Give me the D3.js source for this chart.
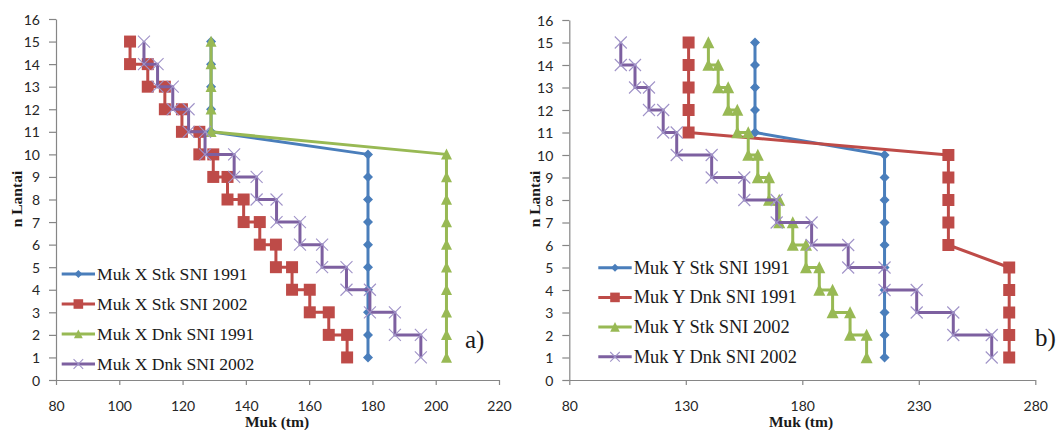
<!DOCTYPE html>
<html>
<head>
<meta charset="utf-8">
<script src="https://cdn.jsdelivr.net/npm/d3@7"></script>
<style>
  html, body { margin: 0; padding: 0; background: #fff; }
  svg { display: block; }
</style>
</head>
<body>
<svg id="chart" width="1059" height="430"></svg>
<script>
// Storey numbers, top to bottom
const floors = d3.range(15, 0, -1);
// Tick values
const yTicks = d3.range(0, 17, 1);
const xTicksA = [80, 100, 120, 140, 160, 180, 200, 220];
const xTicksB = [80, 130, 180, 230, 280];

// Panel a) – one value per storey (15 .. 1)
const mukXStk1991 = [129, 129, 129, 129, 129, 178.6, 178.6, 178.6, 178.6, 178.6, 178.6, 178.6, 178.6, 178.6, 178.6];
const mukXDnk1991 = [129, 129, 129, 129, 129, 203.4, 203.4, 203.4, 203.4, 203.4, 203.4, 203.4, 203.4, 203.4, 203.4];
// Panel a) – stepped series, one value per storey span (15-14 .. 2-1)
const mukXStk2002 = [103.4, 109.0, 114.4, 119.8, 125.3, 129.7, 134.2, 139.3, 144.4, 149.5, 154.6, 160.2, 166.2, 172.0];
const mukXDnk2002 = [107.8, 112.1, 116.9, 121.9, 127.1, 136.3, 143.4, 149.7, 157.1, 164.1, 171.8, 179.2, 187.1, 195.3];

// Panel b)
const mukYStk1991 = [159.7, 159.7, 159.7, 159.7, 159.7, 215.3, 215.3, 215.3, 215.3, 215.3, 215.3, 215.3, 215.3, 215.3, 215.3];
const mukYDnk1991 = [131.2, 131.2, 131.2, 131.2, 131.2, 242.7, 242.7, 242.7, 242.7, 242.7, 268.8, 268.8, 268.8, 268.8, 268.8];
const mukYStk2002 = [139.7, 143.9, 148.2, 152.1, 156.8, 160.9, 165.7, 170.1, 175.9, 181.6, 187.3, 193.0, 200.5, 207.6];
const mukYDnk2002 = [102.1, 108.2, 114.2, 120.3, 126.1, 141.1, 155.1, 169.0, 184.0, 199.7, 215.3, 229.1, 244.8, 261.3];

const namesA = ["Muk X Stk SNI 1991", "Muk X Stk SNI 2002", "Muk X Dnk SNI 1991", "Muk X Dnk SNI 2002"];
const namesB = ["Muk Y Stk SNI 1991", "Muk Y Dnk SNI 1991", "Muk Y Stk SNI 2002", "Muk Y Dnk SNI 2002"];

const COLORS = { blue: "#4A7EBB", red: "#BE4B48", green: "#98B954", purple: "#7D60A0", xmark: "#A093C8" };

// Point builders
const perFloor = vals => vals.map((v, i) => ({ x: v, y: floors[i] }));
const stepped = vals => vals.flatMap((v, i) => [{ x: v, y: 15 - i }, { x: v, y: 14 - i }]);

// Marker shapes (centred on 0,0)
const shapes = {
  diamond: s => `M0,${-s}L${s},0L0,${s}L${-s},0Z`,
  square: s => `M${-s},${-s}H${s}V${s}H${-s}Z`,
  triangle: s => `M0,${-s * 1.05}L${s},${s * 0.95}L${-s},${s * 0.95}Z`,
  cross: s => `M${-s},${-s}L${s},${s}M${s},${-s}L${-s},${s}`
};

const svg = d3.select("#chart");
const tickFont = "Lato, 'Open Sans', sans-serif";
const serif = "'Liberation Serif', 'DejaVu Serif', serif";

function drawMarker(g, type, color, size, x, y) {
  const p = g.append("path").attr("d", shapes[type](size)).attr("transform", `translate(${x},${y})`);
  if (type === "cross") p.attr("fill", "none").attr("stroke", COLORS.xmark).attr("stroke-width", 1.1);
  else p.attr("fill", color);
}

function panel(cfg) {
  const x = d3.scaleLinear().domain(cfg.xDomain).range(cfg.xRange);
  const y = d3.scaleLinear().domain([0, 16]).range([380, cfg.yTop]);
  const g = svg.append("g");

  // Axes
  const yAxis = d3.axisLeft(y).tickValues(yTicks).tickSize(7).tickPadding(9).tickSizeOuter(0);
  const gy = g.append("g").attr("transform", `translate(${cfg.xRange[0]},0)`).call(yAxis);
  const xAxis = d3.axisBottom(x).tickValues(cfg.xTicks).tickSize(5).tickPadding(16).tickSizeOuter(0);
  const gx = g.append("g").attr("transform", `translate(0,380)`).call(xAxis);
  [gy, gx].forEach(a => {
    a.select(".domain").attr("stroke", "#868686").attr("stroke-width", 1.2);
    a.selectAll(".tick line").attr("stroke", "#868686").attr("stroke-width", 1.2);
    a.selectAll(".tick text").attr("font-family", tickFont).attr("font-size", 14).attr("fill", "#262626");
  });
  gy.selectAll(".tick text").attr("dy", "0.36em");

  // Axis titles
  g.append("text").attr("x", cfg.xTitleX).attr("y", 427).attr("text-anchor", "middle")
    .attr("font-family", serif).attr("font-weight", "bold").attr("font-size", 15.5).attr("fill", "#1a1a1a")
    .text("Muk (tm)");
  g.append("text").attr("transform", `translate(${cfg.yTitleX},199) rotate(-90)`).attr("text-anchor", "middle")
    .attr("font-family", serif).attr("font-weight", "bold").attr("font-size", 15.5).attr("fill", "#1a1a1a")
    .text("n Lantai");

  // Series
  const line = d3.line().x(d => x(d.x)).y(d => y(d.y));
  cfg.series.forEach(s => {
    const sg = g.append("g");
    sg.append("path").datum(s.points).attr("d", line)
      .attr("fill", "none").attr("stroke", s.color).attr("stroke-width", 3).attr("stroke-linejoin", "round");
    s.points.forEach(p => drawMarker(sg, s.shape, s.color, s.size, x(p.x), y(p.y)));
  });

  // Legend
  const lg = g.append("g");
  cfg.series.forEach((s, i) => {
    const ry = cfg.legend.y0 + i * cfg.legend.dy;
    lg.append("line").attr("x1", cfg.legend.x0).attr("x2", cfg.legend.x1).attr("y1", ry).attr("y2", ry)
      .attr("stroke", s.color).attr("stroke-width", 3);
    drawMarker(lg, s.shape, s.color, s.size * 0.8, (cfg.legend.x0 + cfg.legend.x1) / 2, ry);
    lg.append("text").attr("x", cfg.legend.x1 + 2).attr("y", ry + 6)
      .attr("font-family", serif).attr("font-size", cfg.legend.fs).attr("fill", "#1a1a1a")
      .text(s.name);
  });

  // Panel tag
  g.append("text").attr("x", cfg.tag.x).attr("y", cfg.tag.y)
    .attr("font-family", serif).attr("font-size", 25).attr("fill", "#1a1a1a").text(cfg.tag.text);
}

panel({
  xDomain: [80, 220], xRange: [56, 499], yTop: 19, xTicks: xTicksA,
  xTitleX: 277, yTitleX: 22,
  series: [
    { name: namesA[0], points: perFloor(mukXStk1991), color: COLORS.blue, shape: "diamond", size: 5 },
    { name: namesA[1], points: stepped(mukXStk2002), color: COLORS.red, shape: "square", size: 6 },
    { name: namesA[2], points: perFloor(mukXDnk1991), color: COLORS.green, shape: "triangle", size: 5.5 },
    { name: namesA[3], points: stepped(mukXDnk2002), color: COLORS.purple, shape: "cross", size: 6 }
  ],
  legend: { x0: 61.7, x1: 95, y0: 274, dy: 30, fs: 17.6 },
  tag: { x: 465, y: 348, text: "a)" }
});

panel({
  xDomain: [80, 280], xRange: [569.3, 1035.3], yTop: 20, xTicks: xTicksB,
  xTitleX: 801, yTitleX: 540,
  series: [
    { name: namesB[0], points: perFloor(mukYStk1991), color: COLORS.blue, shape: "diamond", size: 5 },
    { name: namesB[1], points: perFloor(mukYDnk1991), color: COLORS.red, shape: "square", size: 6 },
    { name: namesB[2], points: stepped(mukYStk2002), color: COLORS.green, shape: "triangle", size: 6 },
    { name: namesB[3], points: stepped(mukYDnk2002), color: COLORS.purple, shape: "cross", size: 6 }
  ],
  legend: { x0: 598.3, x1: 631.7, y0: 267.7, dy: 29.7, fs: 18.4 },
  tag: { x: 1035, y: 346, text: "b)" }
});
</script>
</body>
</html>
